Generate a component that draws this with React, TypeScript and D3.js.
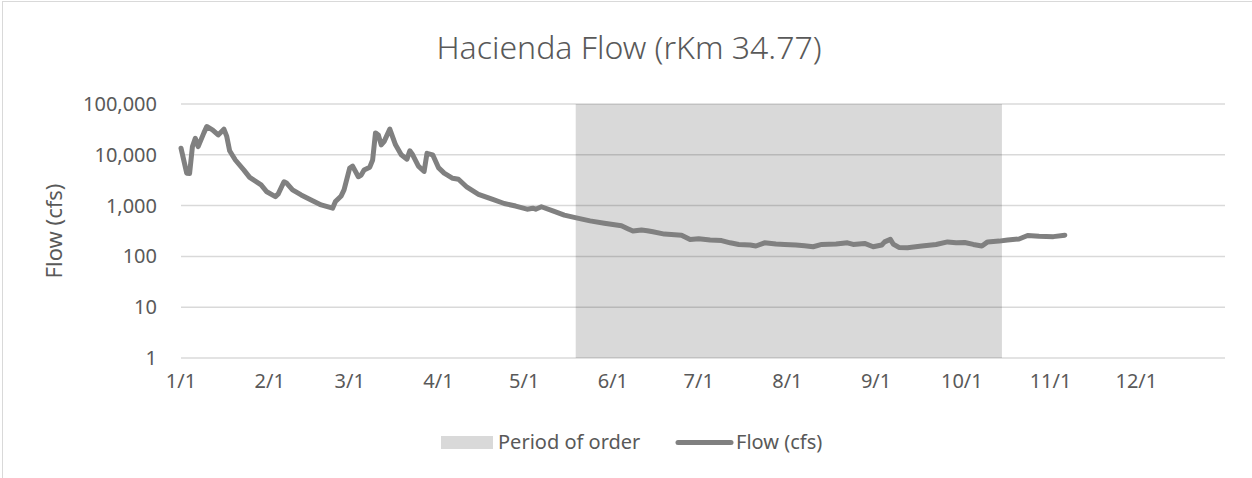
import React from 'react';
import * as d3 from 'd3';

// flow readings (cfs), month/day in 2019
const flowDates = [
  '1/1', '1/3', '1/4', '1/5', '1/6', '1/7', '1/9', '1/10', '1/12', '1/14', '1/16', '1/17', '1/18', '1/20',
  '1/23', '1/25', '1/29', '1/31', '2/3', '2/4', '2/6', '2/7', '2/9', '2/12', '2/16', '2/19', '2/23', '2/24',
  '2/26', '2/27', '3/1', '3/2', '3/4', '3/5', '3/6', '3/8', '3/9', '3/10', '3/11', '3/12', '3/13', '3/15',
  '3/17', '3/19', '3/21', '3/22', '3/23', '3/25', '3/27', '3/28', '3/30', '4/1', '4/3', '4/6', '4/8', '4/11',
  '4/15', '4/20', '4/24', '4/28', '5/2', '5/4', '5/5', '5/7', '5/11', '5/15', '5/20', '5/24', '5/29', '6/4',
  '6/6', '6/8', '6/11', '6/13', '6/15', '6/19', '6/25', '6/28', '7/1', '7/5', '7/9', '7/12', '7/15', '7/19',
  '7/21', '7/24', '7/28', '7/31', '8/4', '8/7', '8/10', '8/13', '8/18', '8/22', '8/24', '8/28', '8/31', '9/3',
  '9/4', '9/6', '9/7', '9/9', '9/12', '9/17', '9/22', '9/26', '9/29', '10/2', '10/5', '10/8', '10/10', '10/14',
  '10/17', '10/21', '10/24', '10/28', '11/2', '11/6',
];
const flowValues = [
  13500, 4350, 4300, 14500, 21000, 14500, 27000, 36000, 31000, 24600, 32000, 23000, 12000, 7900,
  5000, 3600, 2550, 1870, 1500, 1700, 2950, 2750, 2040, 1620, 1250, 1030, 890, 1200,
  1550, 2040, 5500, 6000, 3700, 4000, 5000, 5700, 7900, 27000, 24600, 15700, 18200, 32000,
  15700, 10000, 8200, 12000, 10000, 6000, 4700, 10700, 10000, 5600, 4350, 3450, 3300, 2300,
  1670, 1320, 1100, 980, 850, 890, 850, 950, 790, 650, 560, 500, 450, 400,
  355, 315, 330, 320, 305, 275, 262, 215, 222, 210, 205, 185, 172, 168,
  160, 185, 175, 172, 168, 162, 155, 172, 175, 185, 172, 180, 155, 168,
  193, 216, 175, 150, 148, 160, 172, 193, 185, 188, 172, 160, 193, 200,
  210, 220, 258, 250, 245, 262,
];
const orderPeriod = ['5/19', '10/15'];
const yTicks = [1, 10, 100, 1000, 10000, 100000];
const monthTicks = ['1/1', '2/1', '3/1', '4/1', '5/1', '6/1', '7/1', '8/1', '9/1', '10/1', '11/1', '12/1'];

const YEAR = 2019;
const toDate = (md: string) => {
  const [m, d] = md.split('/').map(Number);
  return new Date(YEAR, m - 1, d);
};

const W = 1252;
const H = 478;
const margin = { left: 181, right: 27, top: 104, bottom: 120 };
const FONT = '"Noto Sans", sans-serif';
const TEXT = '#595959';

export default function App() {
  const x = d3.scaleTime()
    .domain([new Date(YEAR, 0, 1), new Date(YEAR + 1, 0, 1)])
    .range([margin.left, W - margin.right]);
  const y = d3.scaleLog()
    .domain([1, 100000])
    .range([H - margin.bottom, margin.top]);

  const pts = flowDates.map((d, i) => ({ date: toDate(d), value: flowValues[i] }));
  const line = d3.line<{ date: Date; value: number }>()
    .x(d => x(d.date))
    .y(d => y(d.value));

  const fmt = d3.format(',');
  const shadeX0 = x(toDate(orderPeriod[0]));
  const shadeX1 = x(toDate(orderPeriod[1]));

  return (
    <div style={{ position: 'absolute', left: 0, top: 0 }}>
      <svg width={W} height={H} style={{ display: 'block', fontFamily: FONT }}>
        <rect x={0} y={0} width={W} height={H} fill="#fff" />
        <rect x={2.5} y={1.5} width={W + 10} height={H + 10} fill="none" stroke="#d9d9d9" />

        <text x={629} y={59} textAnchor="middle" fontSize={32} fontWeight={300} fill={TEXT}>
          Hacienda Flow (rKm 34.77)
        </text>

        {/* period of order shading */}
        <rect
          x={shadeX0}
          y={y(100000)}
          width={shadeX1 - shadeX0}
          height={y(1) - y(100000)}
          fill="#d9d9d9"
        />

        {/* gridlines + y ticks */}
        {yTicks.map(t => (
          <g key={t}>
            <line x1={margin.left} x2={W - margin.right} y1={y(t)} y2={y(t)} stroke="#000" strokeOpacity={0.15} strokeWidth={1.5} />
            <text x={157} y={y(t)} dy="0.35em" textAnchor="end" fontSize={20} fill={TEXT}>{fmt(t)}</text>
          </g>
        ))}

        {/* month labels */}
        {monthTicks.map(m => (
          <text key={m} x={x(toDate(m))} y={388} textAnchor="middle" fontSize={20} fill={TEXT}>{m}</text>
        ))}

        <text transform={`translate(62,231) rotate(-90)`} textAnchor="middle" fontSize={22} fill={TEXT}>Flow (cfs)</text>

        <path d={line(pts) || ''} fill="none" stroke="#808080" strokeWidth={5} strokeLinejoin="round" strokeLinecap="round" />

        {/* legend */}
        <rect x={441} y={436} width={52} height={13} fill="#d9d9d9" />
        <text x={498} y={449} fontSize={20} fill={TEXT}>Period of order</text>
        <line x1={678} x2={731} y1={442.5} y2={442.5} stroke="#808080" strokeWidth={5} strokeLinecap="round" />
        <text x={736} y={449} fontSize={20} fill={TEXT}>Flow (cfs)</text>
      </svg>
    </div>
  );
}
